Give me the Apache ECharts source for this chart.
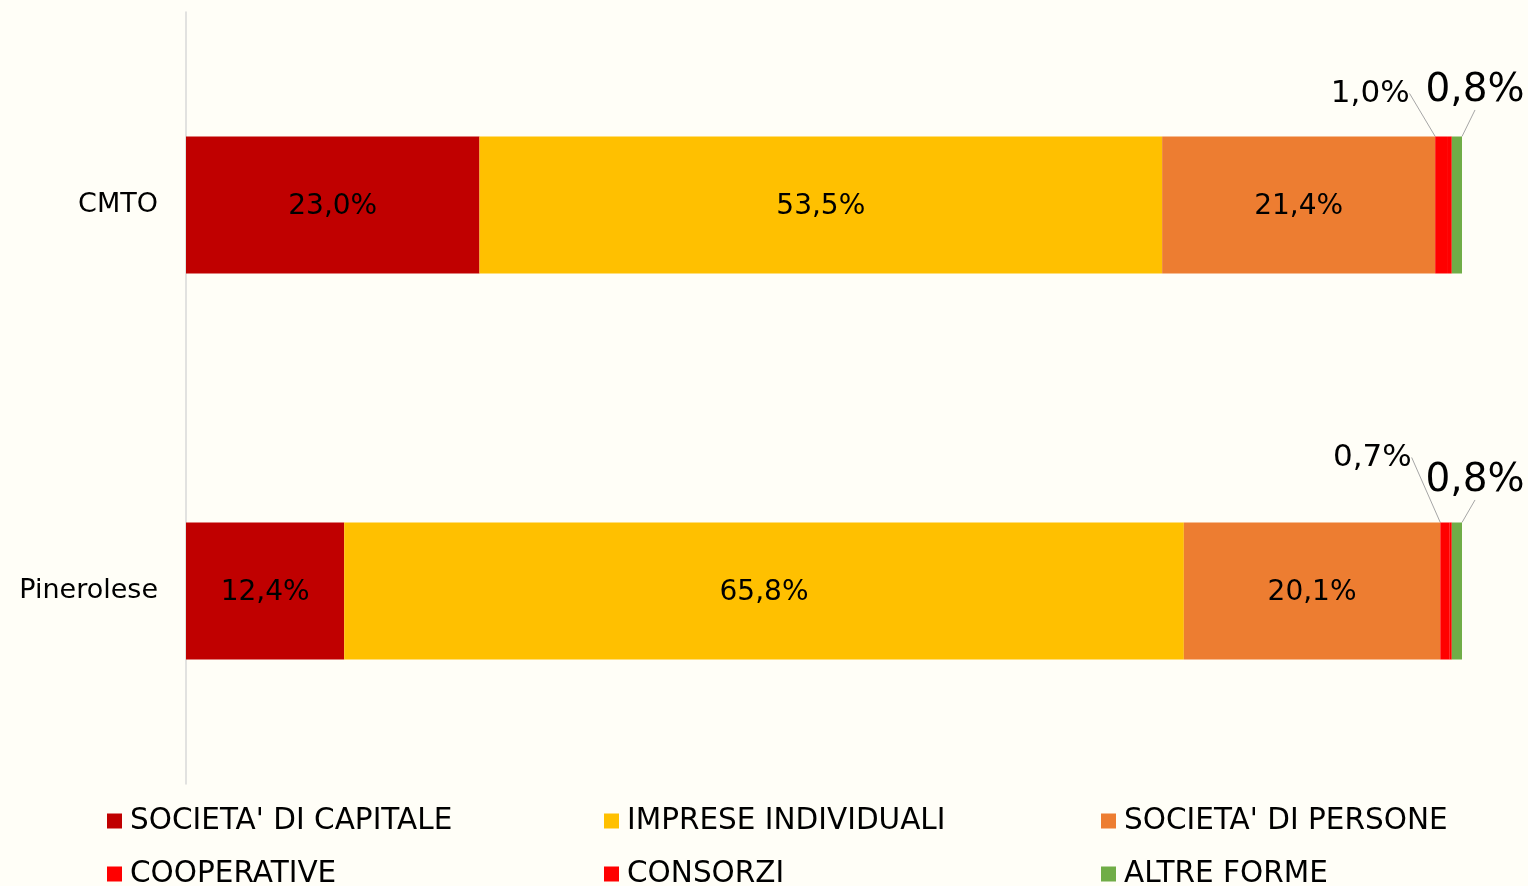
<!DOCTYPE html>
<html>
<head>
<meta charset="utf-8">
<script src="https://cdn.jsdelivr.net/npm/echarts@6/dist/echarts.min.js"></script>
<style>
  html, body { margin: 0; padding: 0; background: #fffef7; }
  #chart { width: 1528px; height: 886px; }
</style>
</head>
<body>
<div id="chart"></div>
<script>
// dati (percentuali per forma giuridica)
var categorie = ['CMTO', 'Pinerolese'];
var societaCapitale = [23.0, 12.4];
var impreseIndividuali = [53.5, 65.8];
var societaPersone = [21.4, 20.1];
var cooperative = [1.0, 0.7];
var consorzi = [0.3, 0.2];
var altreForme = [0.8, 0.8];

var FONT = 'DejaVu Sans';
var myChart = echarts.init(document.getElementById('chart'));

function fmt(p) {
  return p.value.toFixed(1).replace('.', ',') + '%';
}

// etichette esterne per i segmenti piccoli
var lineStyle = { color: '#a6a6a6', width: 1 };

function serie(nome, dati, colore, extra) {
  var s = {
    name: nome,
    type: 'bar',
    stack: 'tot',
    barWidth: '35.5%',
    data: dati,
    itemStyle: { color: colore },
    label: {
      show: true,
      position: 'inside',
      formatter: fmt,
      color: '#000',
      fontFamily: FONT,
      fontSize: 28,
      offset: [0, 2]
    }
  };
  if (extra) { for (var k in extra) s[k] = extra[k]; }
  return s;
}

var option = {
  backgroundColor: '#fffef7',
  animation: false,
  grid: { left: 186, right: 66, top: 12, bottom: 102 },
  xAxis: {
    type: 'value',
    min: 0,
    max: 100,
    show: false
  },
  yAxis: {
    type: 'category',
    data: categorie,
    inverse: true,
    axisLine: { show: true, lineStyle: { color: '#d9d9d9', width: 1.5 } },
    axisTick: { show: false },
    axisLabel: { color: '#000', fontFamily: FONT, fontSize: 27, margin: 28, padding: [4, 0, 0, 0] }
  },
  legend: {
    left: 107,
    top: 803,
    padding: 0,
    width: 1480,
    itemWidth: 15,
    itemHeight: 15,
    itemGap: 17,
    icon: 'rect',
    textStyle: { color: '#000', fontFamily: FONT, fontSize: 29.5, width: 457, lineHeight: 36, padding: [0, 0, 0, 3] },
    data: ["SOCIETA' DI CAPITALE", 'IMPRESE INDIVIDUALI', "SOCIETA' DI PERSONE", 'COOPERATIVE', 'CONSORZI', 'ALTRE FORME']
  },
  series: [
    serie("SOCIETA' DI CAPITALE", societaCapitale, '#c00000'),
    serie('IMPRESE INDIVIDUALI', impreseIndividuali, '#ffc000'),
    serie("SOCIETA' DI PERSONE", societaPersone, '#ed7d31'),
    serie('COOPERATIVE', cooperative, '#ff0000', {
      labelLine: { show: true, lineStyle: lineStyle },
      labelLayout: function (p) {
        var dy = p.dataIndex === 0 ? -43 : -65;
        var dx = p.dataIndex === 0 ? -65 : -68;
        return { x: p.rect.x + dx, y: p.rect.y + dy, align: 'center', verticalAlign: 'middle', fontSize: 31 };
      }
    }),
    serie('CONSORZI', consorzi, '#ff0000', { label: { show: false } }),
    serie('ALTRE FORME', altreForme, '#70ad47', {
      labelLine: { show: true, lineStyle: lineStyle },
      labelLayout: function (p) {
        var dy = p.dataIndex === 0 ? -46 : -42;
        return { x: p.rect.x + p.rect.width + 13, y: p.rect.y + dy, align: 'center', verticalAlign: 'middle', fontSize: 39 };
      }
    })
  ]
};

myChart.setOption(option);
</script>
</body>
</html>
